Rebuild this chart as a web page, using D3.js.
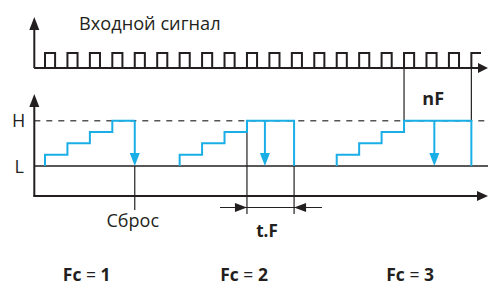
<!DOCTYPE html>
<html><head><meta charset="utf-8">
<script src="https://cdn.jsdelivr.net/npm/d3@7"></script>
<style>html,body{margin:0;padding:0;background:#fff;}svg{display:block;}</style>
</head><body>
<script>
// ---- data ----
const inputLabel = "Входной сигнал";
const pulseStarts = [0,1,2,3,4,5,6,7,8,9,10,11,12,13,14,15,16,17,18,19]; // in pulse periods
const pulseDuty = 0.45;
const stairStarts = [0, 6, 13];          // time where each counter staircase starts
const stepLevels = [1, 2, 3, 4];         // counter levels, 4 = H
const holdEnds = [4, 11.1, 19];          // time the output leaves H
const dropArrows = [4, 9.8, 17.35];      // time of the blue reset arrows
const resetTime = 4;                     // "Сброс"
const tfTimes = [9, 11.1];               // t.F span
const nfTimes = [16, 19];                // nF span
const levelLabels = [{t:"H", v:4}, {t:"L", v:0}];
const fcValues = ["1", "2", "3"];
const fcCenters = [1.86, 8.87, 16.27];   // label centres, in pulse periods

(function () {
const W = 488, H = 286;
const BLUE = "#1aaee6", INK = "#231f20";
const svg = d3.select("body").append("svg").attr("width", W).attr("height", H);

const x = d3.scaleLinear().domain([0, 1]).range([45, 67.44]);
const yP = d3.scaleLinear().domain([0, 1]).range([68, 53]);
const yL = d3.scaleLinear().domain([0, 4]).range([166, 120.7]);
const font = "'Open Sans', 'Noto Sans', sans-serif";

function tri(g, tipX, tipY, dir, len, half, color) {
  let pts;
  if (dir === "up") pts = [[tipX, tipY], [tipX - half, tipY + len], [tipX + half, tipY + len]];
  if (dir === "down") pts = [[tipX, tipY], [tipX - half, tipY - len], [tipX + half, tipY - len]];
  if (dir === "right") pts = [[tipX, tipY], [tipX - len, tipY - half], [tipX - len, tipY + half]];
  if (dir === "left") pts = [[tipX, tipY], [tipX + len, tipY - half], [tipX + len, tipY + half]];
  g.append("path").attr("d", d3.line()(pts) + "Z").attr("fill", color);
}
const line = d3.line();

// ---- top: input signal ----
const gTop = svg.append("g");
const axX0 = 34.3;
gTop.append("line").attr("x1", axX0).attr("x2", axX0).attr("y1", yP(0)).attr("y2", 27)
  .attr("stroke", INK).attr("stroke-width", 2);
tri(gTop, axX0, 17, "up", 13, 5, INK);
const pts = [[axX0, yP(0)]];
const xEnd = 481;
pulseStarts.forEach(p => {
  const a = x(p), b = Math.min(x(p + pulseDuty), xEnd);
  pts.push([a, yP(0)], [a, yP(1)], [b, yP(1)]);
  if (x(p + pulseDuty) <= xEnd) pts.push([b, yP(0)]);
});
gTop.append("path").attr("d", line(pts)).attr("fill", "none").attr("stroke", INK).attr("stroke-width", 2);
gTop.append("line").attr("x1", axX0).attr("x2", 478).attr("y1", yP(0)).attr("y2", yP(0))
  .attr("stroke", INK).attr("stroke-width", 2);
tri(gTop, 488, yP(0), "right", 10, 5, INK);
gTop.append("text").attr("x", 79).attr("y", 30).attr("font-family", font).attr("font-size", 18.2)
  .attr("fill", INK).text(inputLabel);

// ---- bottom: counter ----
const g = svg.append("g");
const yAxisBase = 196;
g.append("line").attr("x1", axX0).attr("x2", W).attr("y1", yL(4)).attr("y2", yL(4))
  .attr("stroke", "#555").attr("stroke-width", 1.4).attr("stroke-dasharray", "6,6");
g.append("line").attr("x1", axX0).attr("x2", W).attr("y1", yL(0)).attr("y2", yL(0))
  .attr("stroke", INK).attr("stroke-width", 1.3);
g.append("line").attr("x1", axX0).attr("x2", axX0).attr("y1", yAxisBase).attr("y2", 104)
  .attr("stroke", INK).attr("stroke-width", 2);
tri(g, axX0, 94, "up", 13, 5, INK);
g.append("line").attr("x1", axX0 - 1).attr("x2", 478).attr("y1", yAxisBase).attr("y2", yAxisBase)
  .attr("stroke", INK).attr("stroke-width", 2);
tri(g, 488, yAxisBase, "right", 11, 5, INK);

const mk = (x1, y1, y2) => g.append("line").attr("x1", x1).attr("x2", x1).attr("y1", y1).attr("y2", y2)
  .attr("stroke", INK).attr("stroke-width", 1.2);
mk(x(resetTime), yL(0), 210);
mk(x(tfTimes[0]), yL(4), 214);
mk(x(tfTimes[1]), yL(0), 214);
nfTimes.forEach(t => mk(x(t), yP(0), yL(4)));
const yTF = 207.5;
g.append("line").attr("x1", 220).attr("x2", 322).attr("y1", yTF).attr("y2", yTF).attr("stroke", INK).attr("stroke-width", 1.2);
tri(g, x(tfTimes[0]), yTF, "right", 12, 4.5, INK);
tri(g, x(tfTimes[1]), yTF, "left", 12, 4.5, INK);

stairStarts.forEach((s, i) => {
  const p = [[x(s), yL(0)]];
  stepLevels.forEach((lv, k) => {
    p.push([x(s + k), yL(lv)]);
    const nx = k < stepLevels.length - 1 ? x(s + k + 1) : x(holdEnds[i]);
    p.push([nx, yL(lv)]);
  });
  if (holdEnds[i] !== dropArrows[i]) p.push([x(holdEnds[i]), yL(0)]);
  g.append("path").attr("d", line(p)).attr("fill", "none").attr("stroke", BLUE).attr("stroke-width", 2)
    .attr("stroke-linejoin", "miter");
  const ax = x(dropArrows[i]);
  g.append("line").attr("x1", ax).attr("x2", ax).attr("y1", yL(4)).attr("y2", yL(0) - 10)
    .attr("stroke", BLUE).attr("stroke-width", 2);
  tri(g, ax, yL(0), "down", 13, 5, BLUE);
});

levelLabels.forEach(d => g.append("text").attr("x", d.t === "H" ? 12 : 14.5).attr("y", yL(d.v) + 6.5)
  .attr("font-family", font).attr("font-size", 18).attr("fill", INK).text(d.t));
g.append("text").attr("x", x(resetTime) - 2).attr("y", 227).attr("text-anchor", "middle")
  .attr("font-family", font).attr("font-size", 18).attr("fill", INK).text("Сброс");
g.append("text").attr("x", (x(tfTimes[0]) + x(tfTimes[1])) / 2 - 3.5).attr("y", 237).attr("text-anchor", "middle")
  .attr("font-family", font).attr("font-size", 17).attr("font-weight", "bold").attr("fill", INK).text("t.F");
g.append("text").attr("x", (x(nfTimes[0]) + x(nfTimes[1])) / 2 - 4.5).attr("y", 105).attr("text-anchor", "middle")
  .attr("font-family", font).attr("font-size", 18).attr("font-weight", "bold").attr("fill", INK).text("nF");
fcValues.forEach((v, i) => {
  const t = g.append("text").attr("x", x(fcCenters[i])).attr("y", 281).attr("text-anchor", "middle")
    .attr("font-family", font).attr("font-size", 17.5).attr("font-weight", "bold").attr("fill", INK);
  t.append("tspan").text("Fc ");
  t.append("tspan").attr("font-weight", "normal").text("=");
  t.append("tspan").text(" " + v);
});
})();
</script>
</body></html>
